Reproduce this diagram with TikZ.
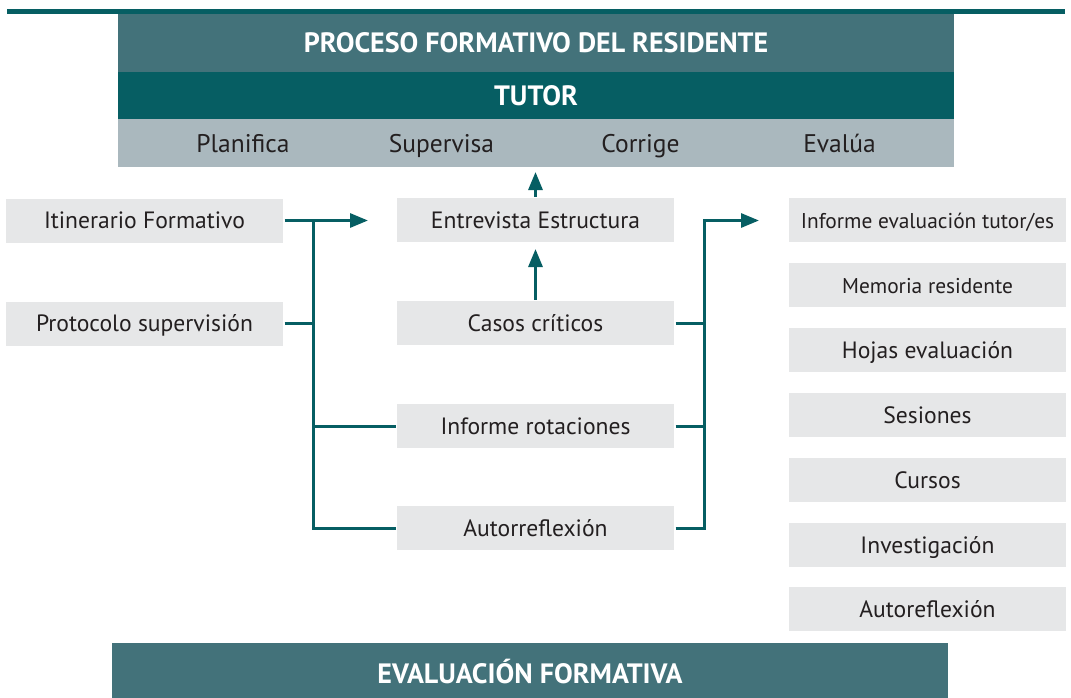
\documentclass[tikz,border=0pt]{standalone}
\usepackage{fontspec}
\setmainfont{PT Sans}
\usetikzlibrary{arrows.meta}
\definecolor{tealDark}{RGB}{6,94,99}
\definecolor{tealMid}{RGB}{67,114,122}
\definecolor{barGray}{RGB}{170,184,190}
\definecolor{boxGray}{RGB}{230,231,232}
\definecolor{inkGray}{RGB}{35,31,32}
\tikzset{every picture/.style={line width=3pt}}

\begin{document}
\begin{tikzpicture}[x=1pt,y=1pt,yscale=-1,xscale=1,
  box/.style={fill=boxGray,minimum width=277pt,minimum height=44pt,inner sep=0pt,text height=19pt,text depth=3pt,text=inkGray,font=\fontsize{23.6}{26}\selectfont},
  smallbox/.style={box,font=\fontsize{21.4}{24}\selectfont},
  band/.style={minimum width=836pt,inner sep=0pt,text height=20pt,text depth=0pt,text=white,font=\bfseries\fontsize{28}{30}\selectfont},
  verb/.style={anchor=base,inner sep=0pt,text=inkGray,font=\fontsize{25.5}{28}\selectfont},
  link/.style={draw=tealDark,line width=3pt},
  tip/.style={-{Triangle[length=18pt,width=14pt]}}]
\useasboundingbox (0,0) rectangle (1071,698);

%Shape: Top rule
\draw [tealDark,line width=5pt] (7,12) -- (1065,12) ;

%Shape: Header bands
\node (proc) [band,fill=tealMid,minimum height=58pt] at (536,43) {PROCESO FORMATIVO DEL RESIDENTE};
\node (tutor) [band,fill=tealDark,minimum height=47pt] at (536,95.5) {TUTOR};
\node (tasks) [band,fill=barGray,minimum height=48pt] at (536,143) {};

% Text Node
\node (plan) [verb] at (243,153) {Planifica};
\node (superv) [verb] at (441.5,153) {Supervisa};
\node (corr) [verb] at (640.5,153) {Corrige};
\node (eval) [verb] at (839.5,153) {Evalúa};

%Shape: Left column
\node (itin) [box] at (144.5,220.5) {Itinerario Formativo};
\node (prot) [box] at (144.5,323.5) {Protocolo supervisión};

%Shape: Middle column
\node (entre) [box] at (535.5,220) {Entrevista Estructura};
\node (casos) [box] at (535.5,323) {Casos críticos};
\node (rotac) [box] at (535.5,426) {Informe rotaciones};
\node (autor) [box] at (535.5,528) {Autorreflexión};

%Shape: Right column
\node (infev) [smallbox] at (927.5,220) {Informe evaluación tutor/es};
\node (memo) [smallbox] at (927.5,285) {Memoria residente};
\node (hojas) [box] at (927.5,350) {Hojas evaluación};
\node (sesi) [box] at (927.5,415) {Sesiones};
\node (curs) [box] at (927.5,480) {Cursos};
\node (inves) [box] at (927.5,545) {Investigación};
\node (autoref) [box] at (927.5,609) {Autoreflexión};

%Shape: Bottom band
\node (evform) [band,fill=tealMid,minimum height=55pt,text height=26pt] at (530,670.5) {EVALUACIÓN FORMATIVA};

%Straight Lines: buses and arrow ends
\coordinate (busL) at (313,0);
\coordinate (busR) at (704,0);
\coordinate (tipL) at (368,220.5);
\coordinate (tipR) at (759,220.5);
\coordinate (tipE) at (535.5,249);
\coordinate (tipT) at (535.5,172);

%Straight Lines: left bus
\draw [link,tip] (itin.east) -- (tipL) ;
\draw [link] (itin.east -| busL) |- (autor.west) ;
\draw [link] (prot.east) -- (prot.east -| busL) ;
\draw [link] (rotac.west -| busL) -- (rotac.west) ;

%Straight Lines: right bus
\draw [link,tip] (autor.east) -| (busR |- tipR) -- (tipR) ;
\draw [link] (casos.east) -- (casos.east -| busR) ;
\draw [link] (rotac.east) -- (rotac.east -| busR) ;

%Straight Lines: vertical arrows
\draw [link,tip] (casos.north) -- (tipE) ;
\draw [link,tip] (entre.north) -- (tipT) ;

\end{tikzpicture}
\end{document}
